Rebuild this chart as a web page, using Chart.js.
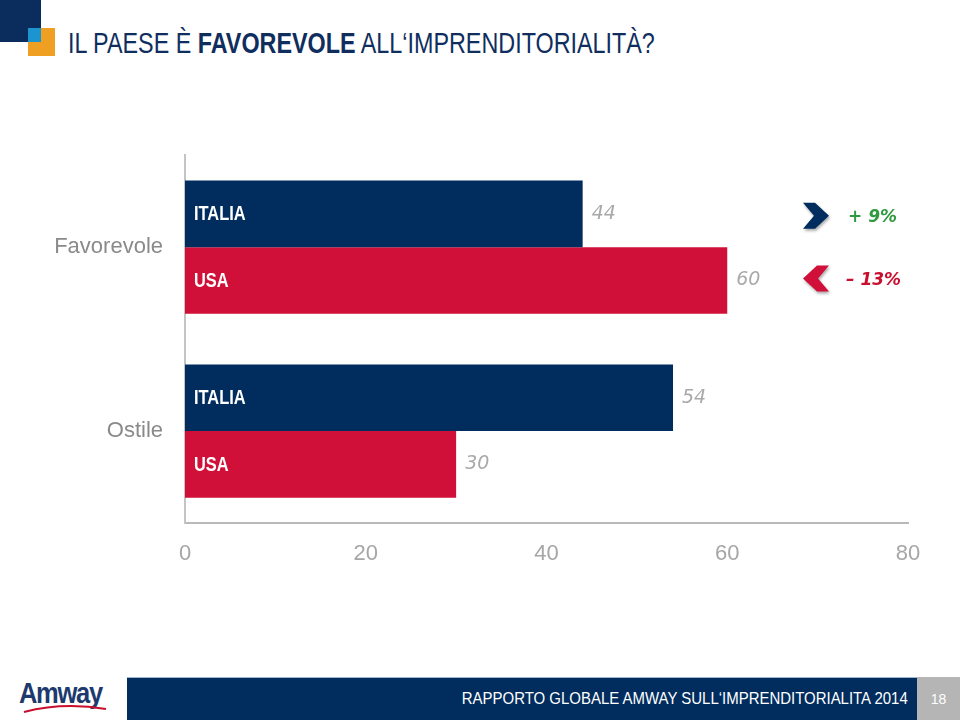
<!DOCTYPE html>
<html>
<head>
<meta charset="utf-8">
<script src="https://cdn.jsdelivr.net/npm/chart.js@4.4.1/dist/chart.umd.min.js"></script>
<style>
  html, body { margin:0; padding:0; background:#fff; width:960px; height:720px; overflow:hidden; }
  body { position:relative; font-family:"Liberation Sans", Arial, sans-serif; }
  .sq { position:absolute; }
  #title { position:absolute; left:68px; top:27px; font-family:"Liberation Sans", Arial, sans-serif; font-size:29px; color:#0f2e5e; white-space:nowrap; transform:scaleX(0.805); transform-origin:0 0; }
  #title b { font-weight:bold; }
  #chartWrap { position:absolute; left:0; top:120px; width:960px; height:460px; }
  #band { position:absolute; left:127px; top:677px; width:790px; height:43px; background:#002d5e; border-top:1px solid #9fb6d0; box-sizing:border-box; }
  #foot { position:absolute; right:52px; top:689px; color:#fff; font-family:"Liberation Sans", Arial, sans-serif; font-size:17px; white-space:nowrap; transform:scaleX(0.88); transform-origin:100% 0; }
  #page { position:absolute; left:917px; top:677px; width:43px; height:43px; background:#b5b5b5; color:#fff; font-size:14px; text-align:center; line-height:45px; font-family:"Liberation Sans", Arial, sans-serif; }
  #logo { position:absolute; left:19px; top:677px; font-family:"Liberation Sans", Arial, sans-serif; font-weight:bold; font-size:29px; color:#1d3a6e; letter-spacing:-1.5px; transform:scaleX(0.88); transform-origin:0 0; }
  #swoosh { position:absolute; left:18px; top:700px; }
</style>
</head>
<body>
<div class="sq" style="left:0;top:0;width:41px;height:42px;background:#0b2d5e;"></div>
<div class="sq" style="left:28px;top:28px;width:27px;height:28px;background:#ef9f22;"></div>
<div class="sq" style="left:28px;top:28px;width:13px;height:14px;background:#1c94cf;"></div>
<div id="title">IL PAESE È <b>FAVOREVOLE</b> ALL‘IMPRENDITORIALITÀ?</div>

<div id="chartWrap"><canvas id="c"></canvas></div>

<div id="logo">Amway</div>
<svg id="swoosh" width="95" height="16"><path d="M6 12 Q45 2 88 9" stroke="#c8102e" stroke-width="2" fill="none"/></svg>
<div id="band"></div>
<div id="foot">RAPPORTO GLOBALE AMWAY SULL‘IMPRENDITORIALITA 2014</div>
<div id="page">18</div>

<script>
const categories = ["Favorevole", "Ostile"];
const seriesNames = ["ITALIA", "USA"];
const italiaValues = [44, 54];
const usaValues = [60, 30];
const xTicks = [0, 20, 40, 60, 80];
const changeLabels = ["+ 9%", "– 13%"];

const NAVY = "#002d5e";
const RED = "#d01038";

const labelPlugin = {
  id: "labels",
  afterDatasetsDraw(chart) {
    const ctx = chart.ctx;
    ctx.save();
    chart.data.datasets.forEach((ds, di) => {
      const meta = chart.getDatasetMeta(di);
      meta.data.forEach((bar, i) => {
        ctx.save();
        ctx.fillStyle = "#ffffff";
        ctx.font = "bold 20px 'Liberation Sans', Arial, sans-serif";
        ctx.textAlign = "left";
        ctx.textBaseline = "middle";
        ctx.translate(bar.base + 9, bar.y + 1);
        ctx.scale(0.82, 1);
        ctx.fillText(ds.label, 0, 0);
        ctx.restore();
        ctx.fillStyle = "#a9a9a9";
        ctx.font = "italic 19px 'DejaVu Sans', sans-serif";
        ctx.textAlign = "left";
        ctx.textBaseline = "middle";
        ctx.fillText(String(ds.data[i]), bar.x + 9, bar.y);
      });
    });
    const m0 = chart.getDatasetMeta(0).data[0];
    const m1 = chart.getDatasetMeta(1).data[0];
    const cx = 816;
    function chevron(y, dir, color) {
      ctx.save();
      ctx.shadowColor = "rgba(0,0,0,0.35)";
      ctx.shadowBlur = 3;
      ctx.shadowOffsetX = 1;
      ctx.shadowOffsetY = 2;
      ctx.fillStyle = color;
      ctx.beginPath();
      const w = 13, h = 13, t = 12;
      if (dir > 0) {
        ctx.moveTo(cx - w, y - h);
        ctx.lineTo(cx - w + t, y - h);
        ctx.lineTo(cx + w, y);
        ctx.lineTo(cx - w + t, y + h);
        ctx.lineTo(cx - w, y + h);
        ctx.lineTo(cx + w - t - 3, y);
      } else {
        ctx.moveTo(cx + w, y - h);
        ctx.lineTo(cx + w - t, y - h);
        ctx.lineTo(cx - w, y);
        ctx.lineTo(cx + w - t, y + h);
        ctx.lineTo(cx + w, y + h);
        ctx.lineTo(cx - w + t + 3, y);
      }
      ctx.closePath();
      ctx.fill();
      ctx.restore();
    }
    chevron(m0.y + 2, 1, NAVY);
    chevron(m1.y - 2, -1, RED);
    ctx.font = "italic bold 17px 'DejaVu Sans', sans-serif";
    ctx.textAlign = "left";
    ctx.textBaseline = "middle";
    ctx.fillStyle = "#2f9a3e";
    ctx.fillText(changeLabels[0], 848, m0.y + 4);
    ctx.fillStyle = "#c8102e";
    ctx.fillText(changeLabels[1], 846, m1.y);
    ctx.restore();
  }
};

new Chart(document.getElementById("c"), {
  type: "bar",
  data: {
    labels: categories,
    datasets: [
      { label: seriesNames[0], data: italiaValues, backgroundColor: NAVY, categoryPercentage: 0.725, barPercentage: 1.0 },
      { label: seriesNames[1], data: usaValues, backgroundColor: RED, categoryPercentage: 0.725, barPercentage: 1.0 }
    ]
  },
  options: {
    indexAxis: "y",
    responsive: true,
    maintainAspectRatio: false,
    animation: false,
    layout: { padding: { top: 15, right: 52, bottom: 0, left: 0 } },
    plugins: { legend: { display: false }, tooltip: { enabled: false } },
    scales: {
      x: {
        min: 0, max: 80,
        afterBuildTicks(scale) { scale.ticks = xTicks.map(v => ({ value: v })); },
        afterFit(scale) { scale.height = 57; },
        grid: { display: false, drawTicks: false },
        border: { display: true, color: "#b9b9b9", width: 2 },
        ticks: { color: "#a6a6a6", padding: 18, font: { family: "'Liberation Sans', Arial, sans-serif", size: 22 } }
      },
      y: {
        afterFit(scale) { scale.width = 185; },
        grid: { display: false, drawTicks: false },
        border: { display: true, color: "#c4c4c4", width: 2 },
        ticks: { color: "#8a8a8a", padding: 22, font: { family: "'Liberation Sans', Arial, sans-serif", size: 22 } }
      }
    }
  },
  plugins: [labelPlugin]
});
</script>
</body>
</html>
